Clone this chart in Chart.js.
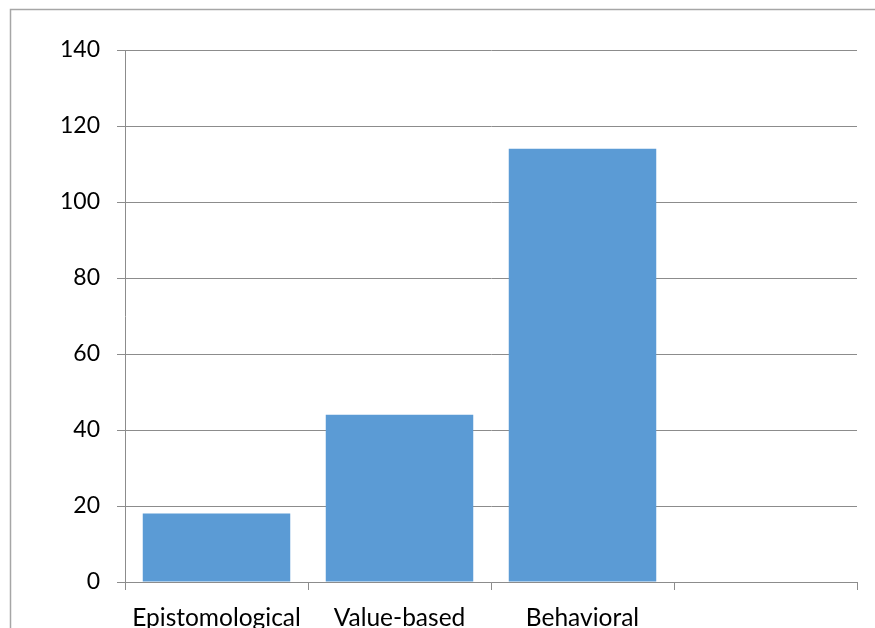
<!DOCTYPE html>
<html>
<head>
<meta charset="utf-8">
<script src="https://cdn.jsdelivr.net/npm/chart.js@4/dist/chart.umd.min.js"></script>
<style>
  html, body { margin: 0; padding: 0; background: #fff; }
  #wrap { position: relative; width: 875px; height: 628px; overflow: hidden; }
</style>
</head>
<body>
<div id="wrap"><canvas id="c" width="875" height="628"></canvas></div>
<script>
// Approach categories and their counts
const categories = ["Epistomological", "Value-based", "Behavioral", ""];
const counts = [18, 44, 114, null];
const yTicks = [0, 20, 40, 60, 80, 100, 120, 140];

const FONT = "Lato, 'Liberation Sans', sans-serif";
const GRID = "#8c8c8c";

// Light frame around the whole chart object
const framePlugin = {
  id: "frame",
  beforeDraw(chart) {
    const ctx = chart.ctx;
    ctx.save();
    ctx.strokeStyle = "#a6a6a6";
    ctx.lineWidth = 1.5;
    ctx.beginPath();
    ctx.moveTo(10.5, chart.height + 2);
    ctx.lineTo(10.5, 9.5);
    ctx.lineTo(chart.width + 2, 9.5);
    ctx.stroke();
    ctx.restore();
  }
};

new Chart(document.getElementById("c"), {
  type: "bar",
  data: {
    labels: categories,
    datasets: [{
      data: counts,
      backgroundColor: "#5b9bd5",
      borderWidth: 0,
      categoryPercentage: 1,
      barPercentage: 0.806
    }]
  },
  options: {
    responsive: false,
    animation: false,
    events: [],
    layout: { padding: { left: 0, top: 50, right: 18, bottom: 0 } },
    plugins: { legend: { display: false }, tooltip: { enabled: false } },
    scales: {
      x: {
        grid: {
          offset: true,
          drawOnChartArea: false,
          drawTicks: true,
          tickLength: 8,
          color: GRID,
          lineWidth: 1
        },
        border: { display: true, color: GRID, width: 1 },
        ticks: {
          color: "#000",
          font: { family: FONT, size: 24.5 },
          padding: 13,
          maxRotation: 0,
          autoSkip: false
        },
        afterFit(scale) { scale.height = 46; }
      },
      y: {
        min: 0,
        max: 140,
        afterBuildTicks(scale) { scale.ticks = yTicks.map(v => ({ value: v })); },
        grid: {
          color: GRID,
          lineWidth: 1,
          drawTicks: true,
          tickLength: 8
        },
        border: { display: true, color: GRID, width: 1 },
        ticks: {
          color: "#000",
          font: { family: FONT, size: 23 },
          padding: 17
        },
        afterFit(scale) { scale.width = 125; }
      }
    }
  },
  plugins: [framePlugin]
});
</script>
</body>
</html>
